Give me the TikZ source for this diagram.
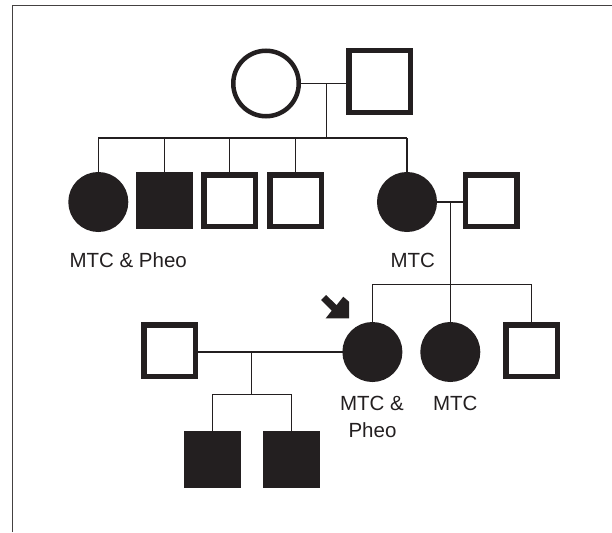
\documentclass[tikz,border=0pt]{standalone}
\usepackage{fontspec}
\setmainfont{Liberation Sans}
\definecolor{ink}{HTML}{231F20}
\tikzset{
  ind/.style={draw=ink, line width=5.5pt, inner sep=0pt, outer sep=0pt},
  fem/.style={ind, circle, minimum size=54.5pt},
  mal/.style={ind, rectangle, minimum size=51.5pt},
  aff/.style={fill=ink},
  una/.style={fill=white},
  link/.style={draw=ink, line width=1.3pt},
  lab/.style={font=\fontsize{20.5}{26}\selectfont, text=ink, inner sep=0pt},
  frameline/.style={draw=ink!85, line width=1.5pt}
}
\begin{document}
\begin{tikzpicture}[x=1pt, y=-1pt]
\useasboundingbox (0,0) rectangle (612,532);
\draw[frameline] (12.5,532) -- (12.5,5.5) -- (612,5.5);

% generation I
\node[fem, una, line width=4.5pt, minimum size=65.5pt] (gf) at (266,83.5) {};
\node[mal, una, minimum size=61.5pt] (gm) at (379.5,81.5) {};
% generation II
\node[fem, aff] (c1) at (98.3,202) {};
\node[mal, aff] (c2) at (164.3,200.5) {};
\node[mal, una] (c3) at (229.5,200.5) {};
\node[mal, una] (c4) at (295.5,200.5) {};
\node[fem, aff] (c5) at (407,202) {};
\node[mal, una] (h5) at (491.4,200.5) {};
% generation III
\node[mal, una] (h6) at (169.5,350.5) {};
\node[fem, aff] (g1) at (372.4,352) {};
\node[fem, aff] (g2) at (450.3,352) {};
\node[mal, una] (g3) at (531.6,350.5) {};
% generation IV
\node[mal, aff] (k1) at (212.8,459.3) {};
\node[mal, aff] (k2) at (291.5,459.3) {};

% connectors
\coordinate (m1) at (326.7,83.5);
\coordinate (s1) at (326.7,138);
\draw[link] (gf.east) -- (gf.east -| gm.west);
\draw[link] (m1) -- (s1);
\draw[link] (c1.north |- s1) -- (c5.north |- s1);
\foreach \n in {c1,c2,c3,c4,c5} \draw[link] (\n.north |- s1) -- (\n.north);

\coordinate (m2) at (450.3,202);
\coordinate (s2) at (450.3,284.4);
\draw[link] (c5.east) -- (c5.east -| h5.west);
\draw[link] (m2) -- (s2);
\draw[link] (g1.north |- s2) -- (g3.north |- s2);
\foreach \n in {g1,g2,g3} \draw[link] (\n.north |- s2) -- (\n.north);

\coordinate (m3) at (251.7,352);
\coordinate (s3) at (251.7,394.3);
\draw[link] (g1.west -| h6.east) -- (g1.west);
\draw[link] (m3) -- (s3);
\draw[link] (k1.north |- s3) -- (k2.north |- s3);
\foreach \n in {k1,k2} \draw[link] (\n.north |- s3) -- (\n.north);

% proband arrow
\fill[ink] (326,295) -- (321,300) -- (331.7,310.7) -- (325.7,318.3) -- (349,318.3)
  -- (349,301.7) -- (343.3,296.7) -- (336.6,305.1) -- cycle;

% labels
\node[lab, anchor=base west] (l1) at (69.3,267.3) {MTC \& Pheo};
\node[lab, anchor=base] (l2) at (412.8,267.3) {MTC};
\node[lab, anchor=base] (l3) at (372,410.7) {MTC \&};
\node[lab, anchor=base] (l4) at (372.5,437) {Pheo};
\node[lab, anchor=base] (l5) at (455.3,410.7) {MTC};
\end{tikzpicture}
\end{document}
